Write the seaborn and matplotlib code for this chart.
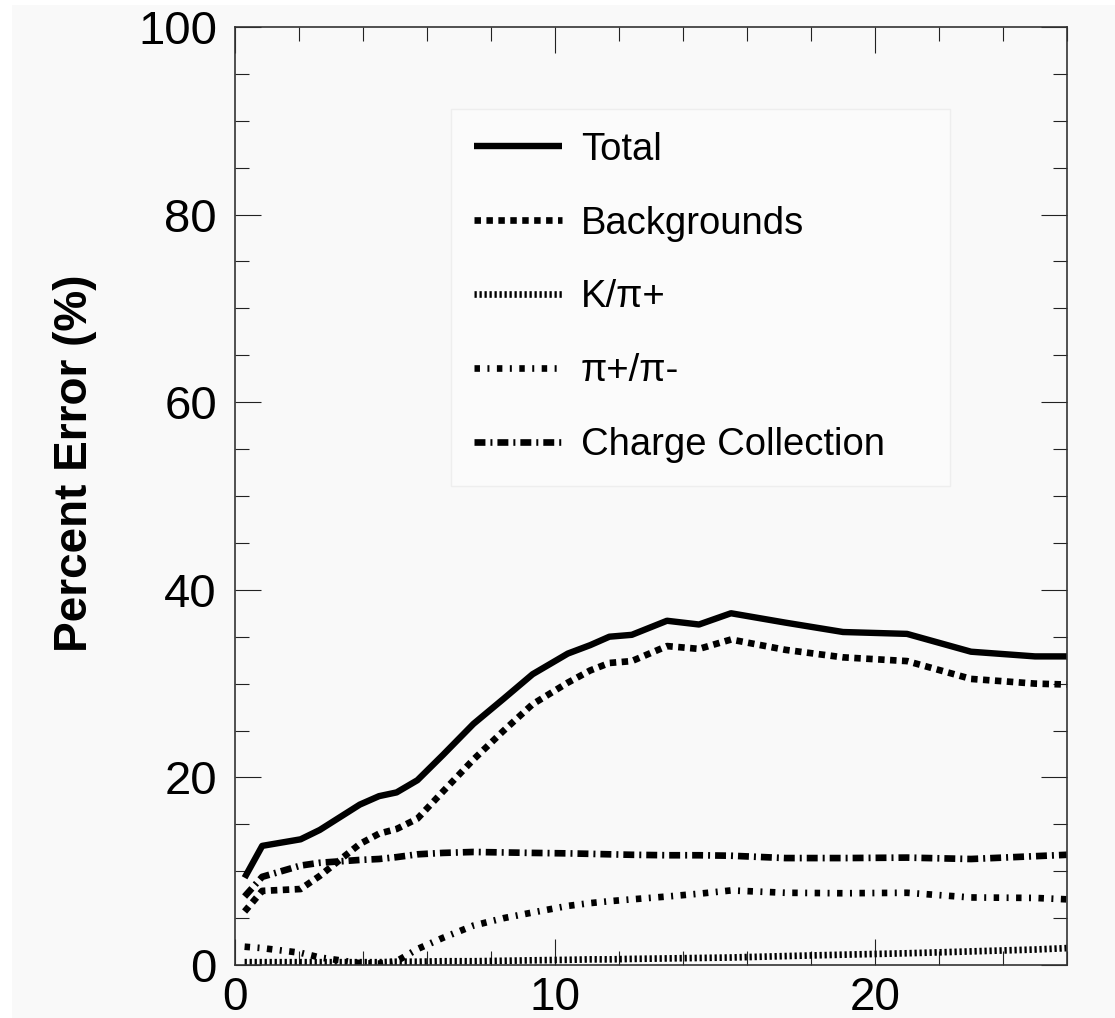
import numpy as np
import pandas as pd
import matplotlib
matplotlib.use("Agg")
import matplotlib.pyplot as plt
from matplotlib.ticker import MultipleLocator
from matplotlib.patches import Rectangle
import seaborn as sns

# Bin centres shared by every error component
x_vals = [0.3, 0.85, 2.05, 2.65, 3.9, 4.5, 5.05, 5.7, 6.5, 7.45, 8.4, 9.3, 10.4,
          11.1, 11.7, 12.4, 13.5, 14.5, 15.5, 17.2, 19.0, 21.0, 23.0, 25.0, 26.0]

total = [9.3, 12.7, 13.4, 14.4, 17.1, 18.0, 18.4, 19.7, 22.4, 25.7, 28.4, 31.0, 33.2,
         34.1, 35.0, 35.2, 36.7, 36.3, 37.5, 36.5, 35.5, 35.3, 33.4, 32.9, 32.9]
backgrounds = [5.7, 7.9, 8.1, 9.5, 12.9, 14.0, 14.5, 15.6, 18.5, 21.9, 25.0, 27.8, 30.1,
               31.4, 32.2, 32.4, 34.0, 33.7, 34.7, 33.6, 32.8, 32.4, 30.5, 30.0, 29.9]
k_pi = [0.3, 0.3, 0.3, 0.3, 0.3, 0.3, 0.35, 0.35, 0.4, 0.4, 0.45, 0.5, 0.55,
        0.6, 0.6, 0.65, 0.7, 0.75, 0.8, 0.95, 1.1, 1.25, 1.45, 1.65, 1.8]
pip_pim = [1.95, 1.8, 1.3, 0.8, 0.2, 0.15, 0.4, 1.7, 2.9, 4.2, 5.0, 5.6, 6.3,
           6.6, 6.8, 7.0, 7.3, 7.6, 7.95, 7.7, 7.65, 7.7, 7.2, 7.15, 7.0]
charge_collection = [7.3, 9.4, 10.6, 10.9, 11.2, 11.3, 11.5, 11.8, 11.95, 12.05, 12.0, 11.95, 11.9,
                     11.85, 11.8, 11.75, 11.7, 11.7, 11.65, 11.4, 11.4, 11.45, 11.3, 11.6, 11.75]

series_names = ["Total", "Backgrounds", "K/\u03c0+", "\u03c0+/\u03c0-", "Charge Collection"]
series_values = [total, backgrounds, k_pi, pip_pim, charge_collection]

# line width (pt) and dash pattern (in units of line width) per component
styles = {
    "Total": (4.6, "-"),
    "Backgrounds": (4.8, (0, (0.97, 0.82))),
    "K/\u03c0+": (4.8, (0, (0.34, 0.41))),
    "\u03c0+/\u03c0-": (4.8, (0, (0.82, 1.12, 0.3, 1.12))),
    "Charge Collection": (4.8, (0, (1.64, 0.75, 0.3, 0.75))),
}

df = pd.concat(
    [pd.DataFrame({"x": x_vals, "err": vals, "component": name})
     for name, vals in zip(series_names, series_values)],
    ignore_index=True,
)

sns.set_theme(style="ticks")
plt.rcParams["font.family"] = ["Liberation Sans", "DejaVu Sans"]
plt.rcParams.update({
    "text.color": "black",
    "axes.labelcolor": "black",
    "xtick.color": "black",
    "ytick.color": "black",
    "lines.dash_capstyle": "butt",
})

bg = "#f9f9f9"
W, H = 1115, 1018
fig = plt.figure(figsize=(W / 100, H / 100), dpi=100, facecolor="white")
# light page tone with a thin white margin along the top and left edges
fig.patches.append(Rectangle((12 / W, 0), 1 - 12 / W, 1 - 5 / H,
                             transform=fig.transFigure, facecolor=bg,
                             edgecolor="none", zorder=-10))

ax = fig.add_axes([235 / W, 1 - 965 / H, 832 / W, 938 / H])
ax.set_facecolor(bg)

for name in series_names:
    lw, ls = styles[name]
    sns.lineplot(data=df[df["component"] == name], x="x", y="err", ax=ax,
                 color="black", linewidth=lw, linestyle=ls, label=name,
                 solid_capstyle="butt", dash_capstyle="butt")

ax.set_xlim(0, 26)
ax.set_ylim(0, 100)
ax.xaxis.set_major_locator(MultipleLocator(10))
ax.xaxis.set_minor_locator(MultipleLocator(2))
ax.yaxis.set_major_locator(MultipleLocator(20))
ax.yaxis.set_minor_locator(MultipleLocator(5))

ax.tick_params(which="both", direction="in", top=True, right=True,
               color="#222222", width=0.8, labelcolor="black")
ax.tick_params(which="major", length=19)
ax.tick_params(which="minor", length=10)
ax.tick_params(axis="x", pad=8, labelsize=33)
ax.tick_params(axis="y", pad=13, labelsize=34)
for sp in ax.spines.values():
    sp.set_linewidth(1.2)
    sp.set_color("#333333")

ax.set_xlabel("")
ax.set_ylabel("Percent Error (%)", fontsize=33, fontweight="bold", color="black",
              rotation_mode="default", va="center", ha="center")
ax.yaxis.set_label_coords(-0.192, 0.535)

x0 = (451 - 235) / 832
y_top = (965 - 107) / 940
y_bot = (965 - 483) / 940
leg = ax.legend(loc="upper left", bbox_to_anchor=(x0, y_bot, (950 - 451) / 832, y_top - y_bot),
                mode="expand", borderaxespad=0, fontsize=27.5, handlelength=2.3,
                handletextpad=0.5, labelspacing=0.99, borderpad=0.6, frameon=True,
                fancybox=False, framealpha=1)
leg.get_frame().set_facecolor("#fbfbfb")
leg.get_frame().set_edgecolor("#eeeeee")
leg.get_frame().set_linewidth(1.0)
for t in leg.get_texts():
    t.set_color("black")

fig.savefig("out.png", dpi=100, facecolor="white")
